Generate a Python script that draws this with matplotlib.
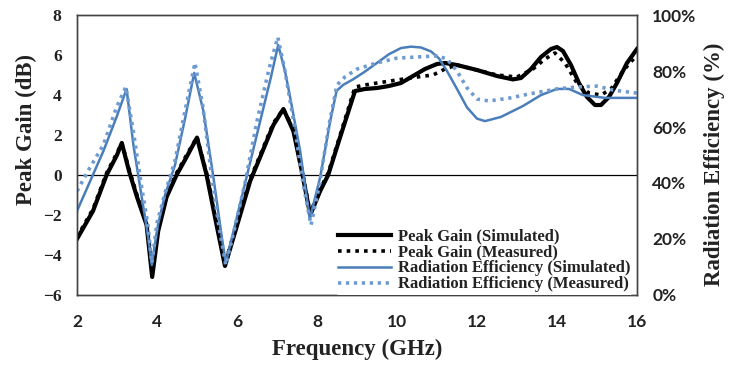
import matplotlib
matplotlib.use("Agg")
import matplotlib.pyplot as plt
from matplotlib.lines import Line2D
from matplotlib.font_manager import FontProperties

# frequency (GHz) / peak gain (dB)
freq_gain_sim = [2.0, 2.4, 2.74, 3.0, 3.12, 3.3, 3.5, 3.74, 3.88, 4.03, 4.24, 4.49,
                 4.74, 5.0, 5.24, 5.49, 5.7, 5.99, 6.33, 6.58, 6.91, 7.16, 7.41,
                 7.62, 7.83, 8.08, 8.28, 8.58, 8.95, 9.2, 9.5, 9.8, 10.1, 10.4,
                 10.7, 11.0, 11.2, 11.5, 12.0, 12.5, 12.9, 13.1, 13.35, 13.6,
                 13.85, 14.0, 14.15, 14.35, 14.55, 14.75, 14.95, 15.1, 15.3,
                 15.5, 15.75, 16.0]
gain_sim = [-3.2, -1.8, 0.0, 1.0, 1.6, 0.2, -1.1, -2.5, -5.1, -2.8, -1.1, 0.0,
            0.9, 1.87, 0.0, -2.5, -4.55, -2.6, -0.3, 0.9, 2.5, 3.3, 2.2,
            0.2, -2.0, -0.8, 0.0, 1.9, 4.2, 4.3, 4.35, 4.45, 4.6, 4.95,
            5.3, 5.55, 5.6, 5.5, 5.25, 4.95, 4.78, 4.85, 5.3, 5.9,
            6.3, 6.4, 6.2, 5.5, 4.6, 3.9, 3.5, 3.5, 3.9,
            4.6, 5.6, 6.3]

freq_gain_meas = [2.0, 2.4, 2.74, 3.0, 3.12, 3.3, 3.5, 3.74, 3.88, 4.03, 4.24, 4.49,
                  4.74, 5.0, 5.24, 5.49, 5.7, 5.99, 6.33, 6.58, 6.91, 7.16, 7.41,
                  7.62, 7.83, 8.08, 8.28, 8.58, 8.95, 9.2, 9.5, 10.0, 10.5, 10.9,
                  11.2, 11.5, 12.0, 12.5, 13.0, 13.4, 13.7, 13.95, 14.2, 14.5,
                  14.8, 15.1, 15.35, 15.65, 16.0]
gain_meas = [-3.1, -1.7, 0.1, 1.1, 1.6, 0.3, -1.0, -2.4, -4.6, -2.7, -1.0, 0.1,
             1.0, 1.9, 0.1, -2.4, -4.4, -2.5, -0.2, 1.0, 2.6, 3.3, 2.3,
             0.3, -1.9, -0.7, 0.1, 2.0, 4.4, 4.5, 4.6, 4.75, 4.9, 5.0,
             5.3, 5.5, 5.25, 5.0, 4.9, 5.3, 5.8, 6.1, 5.6, 4.6,
             4.1, 4.0, 4.3, 5.2, 6.0]

# frequency (GHz) / radiation efficiency (%)
freq_eff_sim = [2.0, 2.33, 2.66, 2.99, 3.24, 3.41, 3.62, 3.78, 3.87, 4.03, 4.2,
                4.45, 4.7, 4.93, 5.16, 5.41, 5.62, 5.72, 5.95, 6.24, 6.58, 6.85,
                7.03, 7.2, 7.33, 7.58, 7.82, 8.08, 8.33, 8.49, 8.65, 8.9, 9.2,
                9.5, 9.8, 10.1, 10.35, 10.6, 10.85, 11.05, 11.25, 11.5, 11.75,
                12.0, 12.2, 12.6, 13.15, 13.6, 14.0, 14.3, 14.65, 15.2, 16.0]
eff_sim = [30.0, 40.7, 51.4, 63.6, 73.6, 53.6, 34.8, 20.7, 10.7, 25.4, 35.7,
           46.4, 62.9, 79.3, 65.7, 42.1, 20.7, 11.4, 25.0, 42.1, 62.1, 77.9,
           89.3, 80.0, 70.5, 51.4, 27.1, 42.1, 62.1, 72.9, 75.0, 77.0, 79.8,
           82.9, 86.0, 88.2, 88.7, 88.4, 87.0, 84.5, 80.0, 73.6, 67.0,
           63.0, 62.1, 63.6, 67.5, 71.4, 73.6, 73.6, 71.4, 70.4, 70.4]

freq_eff_meas = [2.0, 2.33, 2.66, 2.99, 3.22, 3.4, 3.6, 3.78, 3.87, 4.0, 4.2,
                 4.45, 4.7, 4.95, 5.15, 5.35, 5.55, 5.72, 5.95, 6.2, 6.5, 6.8,
                 7.02, 7.2, 7.45, 7.65, 7.85, 8.05, 8.3, 8.5, 8.7, 9.0, 9.5,
                 10.0, 10.5, 11.0, 11.25, 11.5, 11.75, 12.0, 12.3, 12.8, 13.3,
                 14.0, 14.5, 15.0, 15.4, 16.0]
eff_meas = [37.1, 45.7, 53.6, 67.1, 74.3, 59.3, 40.0, 24.3, 11.4, 25.7, 36.4,
            47.9, 65.7, 82.9, 67.1, 44.3, 24.3, 10.7, 24.3, 40.0, 62.1, 80.7,
            92.1, 80.0, 59.3, 40.0, 25.0, 38.6, 60.7, 75.0, 77.9, 80.7, 82.9,
            84.6, 85.0, 85.4, 84.3, 80.0, 74.0, 70.0, 69.3, 70.3, 71.8,
            73.6, 74.3, 74.6, 73.2, 72.1]

gain_ticks = [-6, -4, -2, 0, 2, 4, 6, 8]
eff_ticks = [0, 20, 40, 60, 80, 100]
freq_ticks = [2, 4, 6, 8, 10, 12, 14, 16]

blue = "#4a7ebb"
blue_light = "#6f9bd0"
ink = "#222222"
serif = "Liberation Serif"
sans = "Lato"

fig = plt.figure(figsize=(7.34, 3.68), dpi=100)
ax = fig.add_axes([0.1049, 0.1984, 0.7629, 0.7608])
ax2 = ax.twinx()

ax.axhline(0, color="black", lw=0.9, zorder=1)
ax.plot(freq_gain_sim, gain_sim, color="black", lw=3.0, zorder=3)
ax.plot(freq_gain_meas, gain_meas, color="black", lw=2.6, ls=(0, (1, 1.4)), zorder=3)
ax2.plot(freq_eff_sim, eff_sim, color=blue, lw=1.8)
ax2.plot(freq_eff_meas, eff_meas, color=blue_light, lw=2.6, ls=(0, (0.9, 1.3)))

ax.set_xlim(2, 16)
ax.set_ylim(-6, 8)
ax2.set_ylim(0, 100)
ax.set_xticks(freq_ticks)
ax.set_yticks(gain_ticks)
ax2.set_yticks(eff_ticks)
ax2.set_yticklabels([f"{v}%" for v in eff_ticks])

sans_tick = FontProperties(family=sans, weight="bold", size=12.5)
serif_tick = FontProperties(family=serif, weight="bold", size=12.5)
for lab in ax.get_xticklabels() + ax2.get_yticklabels():
    lab.set_fontproperties(sans_tick)
    lab.set_color(ink)
for lab in ax.get_yticklabels():
    lab.set_fontproperties(serif_tick)
    lab.set_color(ink)
ax.tick_params(axis="x", length=0, pad=14)
ax.tick_params(axis="y", length=0, pad=11)
ax2.tick_params(axis="y", length=0, pad=11)

for a in (ax, ax2):
    for s in a.spines.values():
        s.set_color("#444444")
        s.set_linewidth(1.0)

label_font = dict(family=serif, weight="bold", size=16.5, color=ink)
ax.set_xlabel("Frequency (GHz)", labelpad=6, **label_font)
ax.set_ylabel("Peak Gain (dB)", va="center", **label_font)
ax2.set_ylabel("Radiation Efficiency (%)", va="center", **label_font)
ax.yaxis.set_label_coords(-0.09, 0.59)
ax2.yaxis.set_label_coords(1.139, 0.466)

handles = [
    Line2D([], [], color="black", lw=3.0),
    Line2D([], [], color="black", lw=2.6, ls=(0, (1, 1.4))),
    Line2D([], [], color=blue, lw=1.8),
    Line2D([], [], color=blue_light, lw=2.6, ls=(0, (0.9, 1.3))),
]
labels = ["Peak Gain (Simulated)", "Peak Gain (Measured)",
          "Radiation Efficiency (Simulated)", "Radiation Efficiency (Measured)"]
leg = ax2.legend(handles, labels, loc="lower right", bbox_to_anchor=(0.993, 0.0),
                 prop=dict(family=serif, weight="bold", size=12),
                 frameon=True, facecolor="white", edgecolor="none", framealpha=1,
                 handlelength=3.2, handletextpad=0.4, labelspacing=0.0,
                 borderpad=0.15, borderaxespad=0.0)
for t in leg.get_texts():
    t.set_color(ink)

fig.savefig("out.png", dpi=100)
